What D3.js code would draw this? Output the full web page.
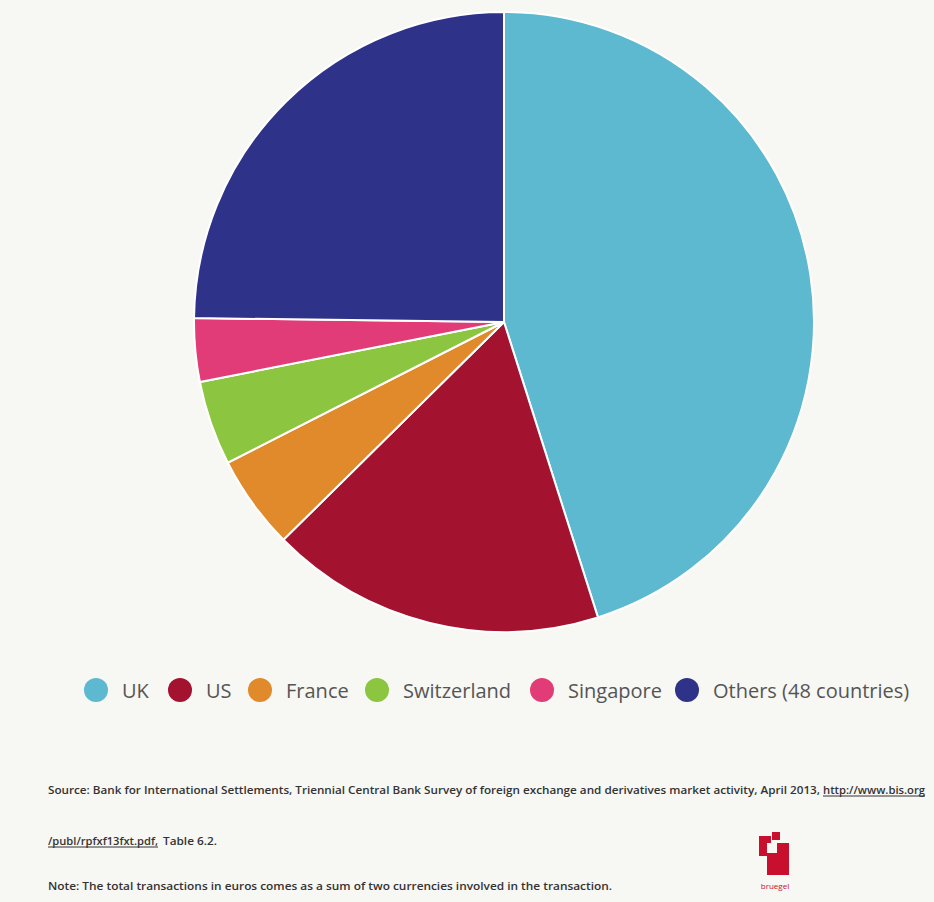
<!DOCTYPE html>
<html>
<head>
<meta charset="utf-8">
<script src="https://cdn.jsdelivr.net/npm/d3@7"></script>
<style>
  body { margin: 0; background: #f7f7f3; }
  svg { display: block; }
</style>
</head>
<body>
<script>
// data (share of euro FX turnover, %)
var countries = ['UK', 'US', 'France', 'Switzerland', 'Singapore', 'Others (48 countries)']
var shares = [45.1, 17.5, 4.9, 4.4, 3.3, 24.8]
var colors = ['#5cb9d0', '#a3122f', '#e08a2c', '#8cc540', '#e23c78', '#2e3389']

var W = 934, H = 902

var svg = d3.select('body').append('svg')
    .attr('width', W)
    .attr('height', H)
    .style('background', '#f7f7f3')

var data = countries.map(function (c, i) {
    return { name: c, value: shares[i], color: colors[i] }
})

// pie
var cx = 504, cy = 322, r = 310
var pie = d3.pie().sort(null).value(function (d) { return d.value })
var arc = d3.arc().innerRadius(0).outerRadius(r)

svg.append('g')
    .attr('transform', 'translate(' + cx + ',' + cy + ')')
    .selectAll('path')
    .data(pie(data))
    .enter().append('path')
    .attr('d', arc)
    .attr('fill', function (d) { return d.data.color })
    .attr('stroke', '#ffffff')
    .attr('stroke-width', 2)

// legend
var legendX = [96, 180, 260, 377, 542, 687]
var legend = svg.append('g').attr('class', 'legend')
var item = legend.selectAll('g')
    .data(data)
    .enter().append('g')
    .attr('transform', function (d, i) { return 'translate(' + legendX[i] + ',690)' })
item.append('circle')
    .attr('r', 12)
    .attr('fill', function (d) { return d.color })
item.append('text')
    .attr('x', 26)
    .attr('y', 8)
    .attr('font-family', 'Open Sans')
    .attr('font-size', 20)
    .attr('fill', '#555')
    .text(function (d) { return d.name })

// footnotes
var notes = [
    { t: 'Source: Bank for International Settlements, Triennial Central Bank Survey of foreign exchange and derivatives market activity, April 2013, ', y: 794, x: 48, w: 772 },
    { t: 'Table 6.2.', y: 845, x: 163, w: 54 },
    { t: 'Note: The total transactions in euros comes as a sum of two currencies involved in the transaction.', y: 890, x: 48, w: 564 }
]
svg.selectAll('text.note')
    .data(notes)
    .enter().append('text')
    .attr('class', 'note')
    .attr('x', function (d) { return d.x })
    .attr('y', function (d) { return d.y })
    .attr('textLength', function (d) { return d.w })
    .attr('lengthAdjust', 'spacingAndGlyphs')
    .attr('font-family', 'Open Sans')
    .attr('font-weight', 600)
    .attr('font-size', 10)
    .attr('fill', '#333')
    .text(function (d) { return d.t })

// links (underlined)
var links = [
    { t: 'http://www.bis.org', x: 823, y: 794, w: 102 },
    { t: '/publ/rpfxf13fxt.pdf,', x: 48, y: 845, w: 110 }
]
var lk = svg.selectAll('g.link').data(links).enter().append('g').attr('class', 'link')
lk.append('text')
    .attr('x', function (d) { return d.x })
    .attr('y', function (d) { return d.y })
    .attr('textLength', function (d) { return d.w })
    .attr('lengthAdjust', 'spacingAndGlyphs')
    .attr('font-family', 'Open Sans')
    .attr('font-weight', 600)
    .attr('font-size', 10)
    .attr('fill', '#333')
    .text(function (d) { return d.t })
lk.append('line')
    .attr('x1', function (d) { return d.x })
    .attr('x2', function (d) { return d.x + d.w })
    .attr('y1', function (d) { return d.y + 2 })
    .attr('y2', function (d) { return d.y + 2 })
    .attr('stroke', '#333')
    .attr('stroke-width', 1)

// bruegel logo
var logo = svg.append('g').attr('transform', 'translate(759,832)')
logo.append('rect').attr('x', 13).attr('y', 0).attr('width', 8).attr('height', 8).attr('fill', '#c8102e')
logo.append('rect').attr('x', 0).attr('y', 4).attr('width', 12).attr('height', 20).attr('fill', '#c8102e')
logo.append('rect').attr('x', 8).attr('y', 11).attr('width', 22).attr('height', 32).attr('fill', '#c8102e')
logo.append('rect').attr('x', 8).attr('y', 11).attr('width', 10).attr('height', 10).attr('fill', '#f7f7f3')
logo.append('text')
    .attr('x', 16).attr('y', 57)
    .attr('text-anchor', 'middle')
    .attr('font-family', 'Open Sans')
    .attr('font-size', 8)
    .attr('fill', '#c8102e')
    .text('bruegel')
</script>
</body>
</html>
